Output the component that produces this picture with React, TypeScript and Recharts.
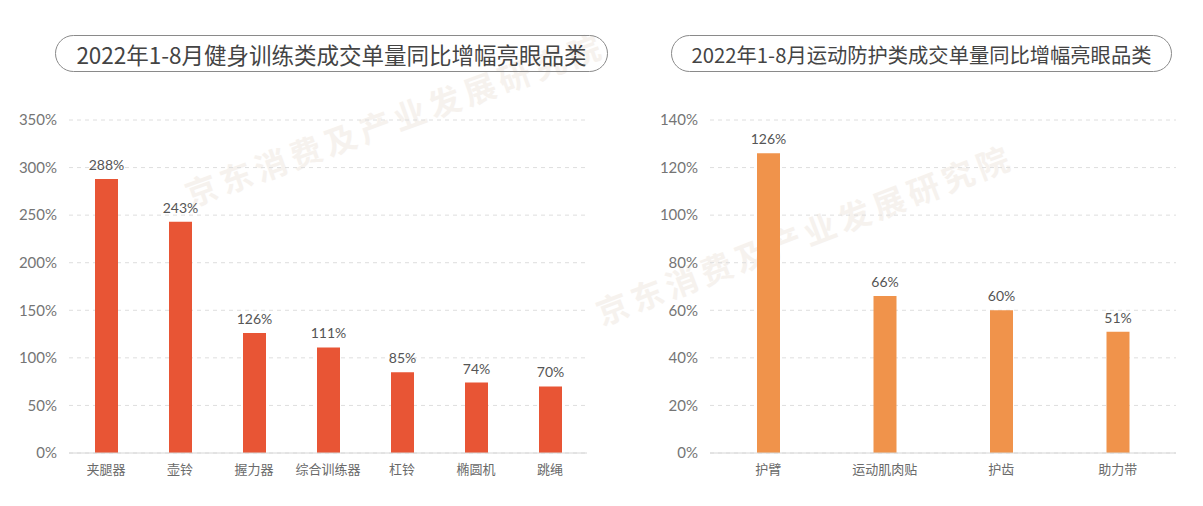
import { FC } from 'react'
import { Bar, BarChart, CartesianGrid, LabelList, XAxis, YAxis } from 'recharts'

const fitnessCategories = ['夹腿器', '壶铃', '握力器', '综合训练器', '杠铃', '椭圆机', '跳绳']
const fitnessGrowth = [288, 243, 126, 111, 85, 74, 70]
const fitnessTicks = [0, 50, 100, 150, 200, 250, 300, 350]

const protectCategories = ['护臂', '运动肌肉贴', '护齿', '助力带']
const protectGrowth = [126, 66, 60, 51]
const protectTicks = [0, 20, 40, 60, 80, 100, 120, 140]

const FONT = "Lato, 'Noto Sans CJK SC', sans-serif"
const WATERMARK = '京东消费及产业发展研究院'

const pct = (v: any) => `${v}%`

interface PanelProps {
    categories: string[]
    values: number[]
    ticks: number[]
    color: string
    width: number
    yWidth: number
    right: number
}

const Panel: FC<PanelProps> = ({ categories, values, ticks, color, width, yWidth, right }) => {
    const data = categories.map((name, i) => ({ name, value: values[i] }))

    return (
        <BarChart
            width={width}
            height={506}
            data={data}
            margin={{ top: 120, right: right, bottom: 13, left: 0 }}
            style={{ fontFamily: FONT }}
        >
            <CartesianGrid vertical={false} strokeDasharray="4 4" stroke="#dedede" />
            <XAxis
                dataKey="name"
                axisLine={{ stroke: '#d6d6d6' }}
                tickLine={false}
                tickSize={0}
                tickMargin={12}
                height={40}
                interval={0}
                tick={{ fill: '#6a6a6a', fontSize: 13 }}
            />
            <YAxis
                domain={[0, ticks[ticks.length - 1]]}
                ticks={ticks}
                tickFormatter={pct}
                axisLine={false}
                tickLine={false}
                tickSize={0}
                tickMargin={12}
                width={yWidth}
                tick={{ fill: '#757575', fontSize: 15 }}
            />
            <Bar dataKey="value" fill={color} barSize={23} isAnimationActive={false}>
                <LabelList dataKey="value" position="top" offset={9} formatter={pct} fill="#555" fontSize={14} />
            </Bar>
        </BarChart>
    )
}

const titleStyle = (left: number, width: number, fontSize: number): React.CSSProperties => ({
    position: 'absolute',
    left,
    top: 35,
    width,
    height: 37,
    boxSizing: 'border-box',
    border: '1.5px solid #8a8a8a',
    borderRadius: 19,
    display: 'flex',
    alignItems: 'center',
    justifyContent: 'center',
    color: '#444',
    fontSize,
    fontFamily: "'Noto Sans CJK SC', sans-serif",
    whiteSpace: 'nowrap',
})

const App: FC = () => {
    return (
        <div style={{ position: 'absolute', left: 0, top: 0, width: 1203, height: 506, background: '#fff', overflow: 'hidden' }}>
            <svg width={1203} height={506} style={{ position: 'absolute', left: 0, top: 0 }}>
                <text
                    x={395}
                    y={132}
                    transform="rotate(-20 395 120)"
                    textAnchor="middle"
                    fontSize={32}
                    fontWeight="bold"
                    letterSpacing={5}
                    fill="#f6f2ee"
                    fontFamily="'Noto Sans CJK SC', sans-serif"
                >
                    {WATERMARK}
                </text>
                <text
                    x={805}
                    y={247}
                    transform="rotate(-21 805 235)"
                    textAnchor="middle"
                    fontSize={32}
                    fontWeight="bold"
                    letterSpacing={5}
                    fill="#f6f2ee"
                    fontFamily="'Noto Sans CJK SC', sans-serif"
                >
                    {WATERMARK}
                </text>
            </svg>
            <div style={{ position: 'absolute', left: 0, top: 0 }}>
                <Panel
                    categories={fitnessCategories}
                    values={fitnessGrowth}
                    ticks={fitnessTicks}
                    color="#E85535"
                    width={600}
                    yWidth={69}
                    right={13}
                />
            </div>
            <div style={{ position: 'absolute', left: 600, top: 0 }}>
                <Panel
                    categories={protectCategories}
                    values={protectGrowth}
                    ticks={protectTicks}
                    color="#F0934B"
                    width={603}
                    yWidth={110}
                    right={27}
                />
            </div>
            <div style={titleStyle(55, 553, 22.5)}>2022年1-8月健身训练类成交单量同比增幅亮眼品类</div>
            <div style={titleStyle(671, 501, 20.3)}>2022年1-8月运动防护类成交单量同比增幅亮眼品类</div>
        </div>
    )
}

export default App
